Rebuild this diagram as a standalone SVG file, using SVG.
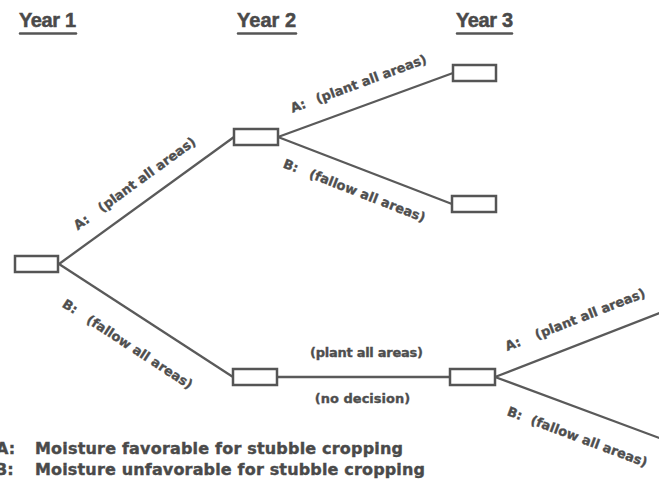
<svg xmlns="http://www.w3.org/2000/svg" width="659" height="497" viewBox="0 0 659 497">
  <style>
    .title { font-family: "Liberation Sans", Arial, sans-serif; font-weight: bold; font-size: 20px; fill: #4a4a4a; stroke: #4a4a4a; stroke-width: 0.5; }
    .uline { stroke: #555; stroke-width: 2.5; stroke-linecap: round; }
    .lbl { font-family: "DejaVu Sans", sans-serif; font-weight: bold; font-size: 13px; fill: #4e4e4e; stroke: #4e4e4e; stroke-width: 0.35; }
    .legend { font-family: "DejaVu Sans", sans-serif; font-weight: bold; font-size: 16px; fill: #4a4a4a; stroke: #4a4a4a; stroke-width: 0.4; }
    .box { fill: #fff; stroke: #555; stroke-width: 2.5; }
    .edge { stroke: #5a5a5a; stroke-width: 2.3; fill: none; }
  </style>
  <rect width="659" height="497" fill="#fff"/>

  <g id="titles">
    <text class="title" x="19" y="27" textLength="57">Year 1</text>
    <line class="uline" x1="20" y1="33.5" x2="76" y2="33.5"/>
    <text class="title" x="237" y="27" textLength="59">Year 2</text>
    <line class="uline" x1="238" y1="33.5" x2="296" y2="33.5"/>
    <text class="title" x="456" y="27" textLength="57">Year 3</text>
    <line class="uline" x1="457" y1="33.5" x2="512" y2="33.5"/>
  </g>

  <g id="connectors">
    <line class="edge" x1="59" y1="264" x2="234" y2="137"/>
    <line class="edge" x1="59" y1="264" x2="233" y2="377"/>
    <line class="edge" x1="278" y1="137" x2="453" y2="73"/>
    <line class="edge" x1="278" y1="137" x2="452" y2="204"/>
    <line class="edge" x1="277" y1="377" x2="450" y2="377"/>
    <line class="edge" x1="495" y1="377" x2="662" y2="312"/>
    <line class="edge" x1="495" y1="377" x2="662" y2="439"/>
  </g>

  <g id="edge-labels">
    <g transform="translate(59,264) rotate(-36.1)">
      <text class="lbl" x="35" y="-16">A:</text>
      <text class="lbl" x="65" y="-16">(plant all areas)</text>
    </g>
    <g transform="translate(59,264) rotate(33.15)">
      <text class="lbl" x="25" y="34">B:</text>
      <text class="lbl" x="54" y="34">(fallow all areas)</text>
    </g>
    <g transform="translate(279,137) rotate(-20.3)">
      <text class="lbl" x="21" y="-18">A:</text>
      <text class="lbl" x="48" y="-18">(plant all areas)</text>
    </g>
    <g transform="translate(279,137) rotate(21.3)">
      <text class="lbl" x="14" y="27">B:</text>
      <text class="lbl" x="42" y="27">(fallow all areas)</text>
    </g>
    <text class="lbl" x="366.5" y="357" text-anchor="middle" textLength="113">(plant all areas)</text>
    <text class="lbl" x="362.5" y="403" text-anchor="middle">(no decision)</text>
    <g transform="translate(496,377) rotate(-21.4)">
      <text class="lbl" x="20" y="-20">A:</text>
      <text class="lbl" x="52" y="-20">(plant all areas)</text>
    </g>
    <g transform="translate(496,377) rotate(20.5)">
      <text class="lbl" x="23" y="32">B:</text>
      <text class="lbl" x="48" y="32">(fallow all areas)</text>
    </g>
  </g>

  <g id="n-y1"><rect class="box" x="15" y="256" width="43" height="16"/></g>
  <g id="n-y2a"><rect class="box" x="234" y="129" width="44" height="16"/></g>
  <g id="n-y2b"><rect class="box" x="233" y="369" width="44" height="16"/></g>
  <g id="n-y3a"><rect class="box" x="453" y="65" width="43" height="16"/></g>
  <g id="n-y3b"><rect class="box" x="452" y="196" width="44" height="16"/></g>
  <g id="n-y3c"><rect class="box" x="450" y="369" width="45" height="16"/></g>

  <g id="legend">
    <text class="legend" y="454"><tspan x="-4">A:</tspan><tspan x="35" textLength="368">Moisture favorable for stubble cropping</tspan></text>
    <text class="legend" y="475"><tspan x="-5">B:</tspan><tspan x="35" textLength="390">Moisture unfavorable for stubble cropping</tspan></text>
  </g>
</svg>
